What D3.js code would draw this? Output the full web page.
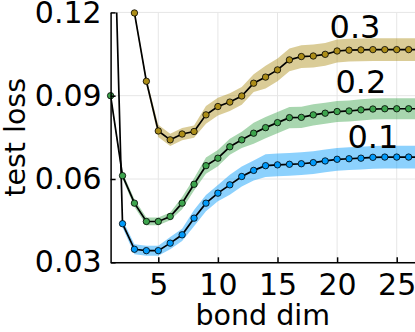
<!DOCTYPE html>
<html>
<head>
<meta charset="utf-8">
<script src="https://cdn.jsdelivr.net/npm/d3@7"></script>
<style>
  body { margin: 0; background: #fff; }
  svg { display: block; font-family: "DejaVu Sans", sans-serif; }
  .grid line { stroke: #e6e6e6; stroke-width: 1; }
  .axis path, .axis line { stroke: #000; stroke-width: 1.5; }
  .axis text { fill: #000; font-size: 30px; font-family: "DejaVu Sans", sans-serif; }
  .label { font-size: 28.5px; fill: #000; }
  .note { font-size: 32px; fill: #000; }
</style>
</head>
<body>
<div id="chart"></div>
<script>
(function() {
  var width = 415,
      height = 332;

  // bond dimension on the x axis
  var bondDim = [1, 2, 3, 4, 5, 6, 7, 8, 9, 10, 11, 12, 13, 14, 15, 16, 17, 18, 19, 20,
                 21, 22, 23, 24, 25, 26, 27];

  // test loss per noise level (0.1, 0.2, 0.3)
  var loss01 = [0.199, 0.0439, 0.0347, 0.0342, 0.0342, 0.0369, 0.0399, 0.0459, 0.0513, 0.0549,
                0.0579, 0.0609, 0.0631, 0.0648, 0.0651, 0.0653, 0.0655, 0.0659, 0.0665, 0.0671,
                0.0673, 0.0675, 0.0678, 0.0679, 0.0679, 0.0679, 0.0679];
  var err01  = [0.0014, 0.0014, 0.0018, 0.0018, 0.0018, 0.0022, 0.0022, 0.0029, 0.0029, 0.0029,
                0.0036, 0.0036, 0.0036, 0.0041, 0.0041, 0.0041, 0.0041, 0.0041, 0.0041, 0.0041,
                0.0041, 0.0041, 0.0041, 0.0041, 0.0041, 0.0041, 0.0041];

  var loss02 = [0.0900, 0.0612, 0.0513, 0.0447, 0.0447, 0.0465, 0.0513, 0.0581, 0.0648, 0.0675,
                0.0716, 0.0741, 0.0765, 0.0785, 0.0803, 0.0821, 0.0822, 0.0831, 0.0837, 0.0843,
                0.0845, 0.0849, 0.0852, 0.0853, 0.0853, 0.0853, 0.0853];
  var err02  = [0.0011, 0.0011, 0.0014, 0.0014, 0.0014, 0.0014, 0.0022, 0.0022, 0.0029, 0.0029,
                0.0029, 0.0029, 0.0038, 0.0038, 0.0038, 0.0038, 0.0038, 0.0038, 0.0038, 0.0038,
                0.0038, 0.0038, 0.0038, 0.0038, 0.0038, 0.0038, 0.0038];

  var bondDim03 = [3, 4, 5, 6, 7, 8, 9, 10, 11, 12, 13, 14, 15, 16, 17, 18, 19, 20, 21, 22,
                   23, 24, 25, 26, 27];
  var loss03 = [0.1198, 0.0952, 0.0773, 0.0741, 0.0762, 0.0771, 0.0831, 0.0861, 0.0877, 0.0899,
                0.0945, 0.0967, 0.0993, 0.1029, 0.1041, 0.1043, 0.1049, 0.1061, 0.1064, 0.1065,
                0.1066, 0.1066, 0.1066, 0.1066, 0.1066];
  var err03  = [0.0011, 0.0011, 0.0022, 0.0022, 0.0022, 0.0022, 0.0032, 0.0032, 0.0032, 0.0032,
                0.0032, 0.0041, 0.0041, 0.0041, 0.0041, 0.0041, 0.0041, 0.0041, 0.0041, 0.0041,
                0.0041, 0.0041, 0.0041, 0.0041, 0.0041];

  var noiseLabels = ["0.1", "0.2", "0.3"];
  var labelX = [23, 22, 21.5];
  var labelY = [0.0753, 0.0951, 0.115];

  var xTicks = [5, 10, 15, 20, 25],
      yTicks = [0.03, 0.06, 0.09, 0.12];

  var colors = ["#009AFA", "#3DA44D", "#AC8D18"];

  var series = [
    {x: bondDim, y: loss01, e: err01},
    {x: bondDim, y: loss02, e: err02},
    {x: bondDim03, y: loss03, e: err03}
  ];

  var x = d3.scaleLinear()
    .domain([1, 26.5])
    .range([110.6, 414.6]);

  var y = d3.scaleLinear()
    .domain([0.03, 0.12])
    .range([262.3, 12.4]);

  var svg = d3.select("#chart")
    .append("svg")
    .attr("width", width)
    .attr("height", height);

  svg.append("clipPath")
      .attr("id", "plotClip")
    .append("rect")
      .attr("x", x.range()[0])
      .attr("y", y.range()[1])
      .attr("width", width - x.range()[0])
      .attr("height", y.range()[0] - y.range()[1]);

  // grid
  var grid = svg.append("g").attr("class", "grid");
  grid.selectAll(".vx")
    .data(xTicks)
    .enter().append("line")
      .attr("x1", x).attr("x2", x)
      .attr("y1", y.range()[0]).attr("y2", y.range()[1]);
  grid.selectAll(".hy")
    .data(yTicks)
    .enter().append("line")
      .attr("x1", x.range()[0]).attr("x2", width)
      .attr("y1", y).attr("y2", y);

  var plot = svg.append("g");

  var area = d3.area()
    .x(function(d) { return x(d[0]); })
    .y0(function(d) { return y(d[1] - d[2]); })
    .y1(function(d) { return y(d[1] + d[2]); });

  var line = d3.line()
    .x(function(d) { return x(d[0]); })
    .y(function(d) { return y(d[1]); });

  series.forEach(function(s, i) {
    var pts = s.x.map(function(v, j) { return [v, s.y[j], s.e[j]]; });

    plot.append("path")
      .datum(pts)
      .attr("clip-path", "url(#plotClip)")
      .attr("d", area)
      .attr("fill", colors[i])
      .attr("fill-opacity", 0.45);
  });

  series.forEach(function(s, i) {
    var pts = s.x.map(function(v, j) { return [v, s.y[j], s.e[j]]; });

    plot.append("path")
      .datum(pts)
      .attr("clip-path", "url(#plotClip)")
      .attr("d", line)
      .attr("fill", "none")
      .attr("stroke", "#000")
      .attr("stroke-width", 1.7);

    plot.selectAll(".dot" + i)
      .data(pts.filter(function(d) { return d[1] <= 0.1201 && d[0] <= 26.5; }))
      .enter().append("circle")
        .attr("cx", function(d) { return x(d[0]); })
        .attr("cy", function(d) { return y(d[1]); })
        .attr("r", 3.2)
        .attr("fill", colors[i])
        .attr("stroke", "#000")
        .attr("stroke-width", 0.8);
  });

  // axes
  svg.append("g")
    .attr("class", "axis")
    .attr("transform", "translate(0," + y.range()[0] + ")")
    .call(d3.axisBottom(x).tickValues(xTicks).tickSize(-5).tickSizeOuter(0).tickPadding(11));

  svg.append("g")
    .attr("class", "axis")
    .attr("transform", "translate(" + x.range()[0] + ",0)")
    .call(d3.axisLeft(y).tickValues(yTicks).tickSize(-5).tickSizeOuter(0).tickPadding(9)
      .tickFormat(d3.format(".2f")));

  svg.selectAll(".axis .domain").attr("stroke-width", 1.6);

  // annotations
  svg.selectAll(".note")
    .data(noiseLabels)
    .enter().append("text")
      .attr("class", "note")
      .attr("x", function(d, i) { return x(labelX[i]); })
      .attr("y", function(d, i) { return y(labelY[i]); })
      .attr("text-anchor", "middle")
      .attr("dy", "0.36em")
      .text(function(d) { return d; });

  svg.append("text")
    .attr("class", "label")
    .attr("text-anchor", "middle")
    .attr("x", (x.range()[0] + width) / 2)
    .attr("y", 325)
    .text("bond dim");

  svg.append("text")
    .attr("class", "label")
    .attr("text-anchor", "middle")
    .attr("transform", "translate(25," + (y.range()[0] + y.range()[1]) / 2 + ") rotate(-90)")
    .text("test loss");
})();
</script>
</body>
</html>
